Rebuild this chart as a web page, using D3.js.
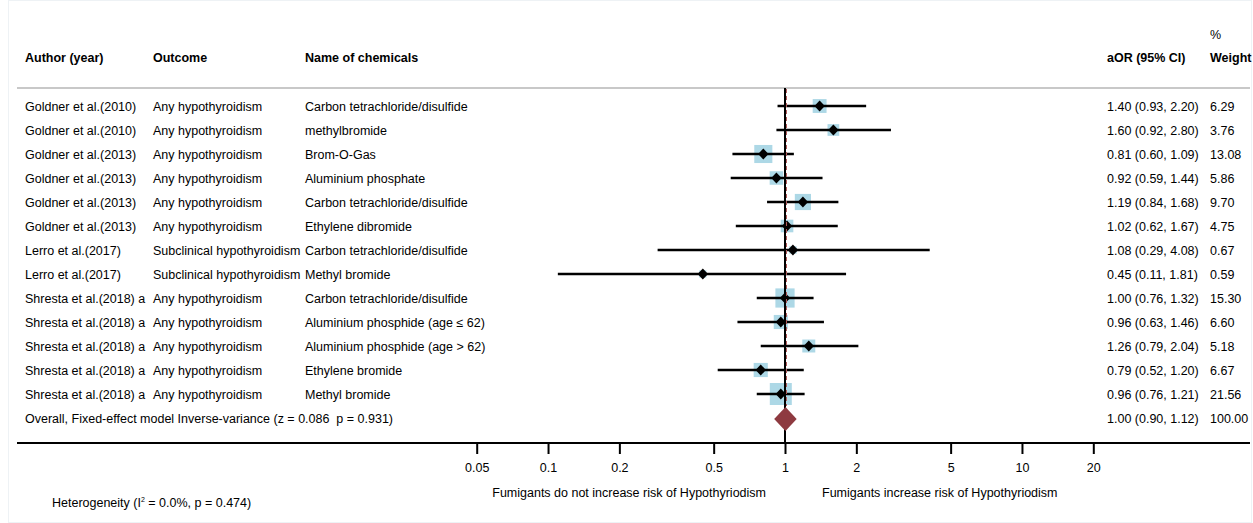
<!DOCTYPE html>
<html>
<head>
<meta charset="utf-8">
<script src="https://cdn.jsdelivr.net/npm/d3@7"></script>
<style>
  html, body { margin: 0; padding: 0; background: #fff; }
  svg { display: block; font-family: "Liberation Sans", Arial, Helvetica, sans-serif; }
  svg text { white-space: pre; }
</style>
</head>
<body>
<svg id="chart" width="1253" height="523"></svg>
<script>
// ---- data ----
const authors = [
  "Goldner et al.(2010)", "Goldner et al.(2010)", "Goldner et al.(2013)", "Goldner et al.(2013)",
  "Goldner et al.(2013)", "Goldner et al.(2013)", "Lerro et al.(2017)", "Lerro et al.(2017)",
  "Shresta et al.(2018) a", "Shresta et al.(2018) a", "Shresta et al.(2018) a", "Shresta et al.(2018) a",
  "Shresta et al.(2018) a"
];
const outcomes = [
  "Any hypothyroidism", "Any hypothyroidism", "Any hypothyroidism", "Any hypothyroidism",
  "Any hypothyroidism", "Any hypothyroidism", "Subclinical hypothyroidism", "Subclinical hypothyroidism",
  "Any hypothyroidism", "Any hypothyroidism", "Any hypothyroidism", "Any hypothyroidism",
  "Any hypothyroidism"
];
const chemicals = [
  "Carbon tetrachloride/disulfide", "methylbromide", "Brom-O-Gas", "Aluminium phosphate",
  "Carbon tetrachloride/disulfide", "Ethylene dibromide", "Carbon tetrachloride/disulfide", "Methyl bromide",
  "Carbon tetrachloride/disulfide", "Aluminium phosphide (age \u2264 62)", "Aluminium phosphide (age > 62)",
  "Ethylene bromide", "Methyl bromide"
];
const estimates = [1.40, 1.60, 0.81, 0.92, 1.19, 1.02, 1.08, 0.45, 1.00, 0.96, 1.26, 0.79, 0.96];
const lower     = [0.93, 0.92, 0.60, 0.59, 0.84, 0.62, 0.29, 0.11, 0.76, 0.63, 0.79, 0.52, 0.76];
const upper     = [2.20, 2.80, 1.09, 1.44, 1.68, 1.67, 4.08, 1.81, 1.32, 1.46, 2.04, 1.20, 1.21];
const weights   = [6.29, 3.76, 13.08, 5.86, 9.70, 4.75, 0.67, 0.59, 15.30, 6.60, 5.18, 6.67, 21.56];

const overallLabel = "Overall, Fixed-effect model Inverse-variance (z = 0.086  p = 0.931)";
const overallEst = 1.0048, overallLow = 0.90, overallHigh = 1.12, overallWeight = 100.00;

const tickValues = [0.05, 0.1, 0.2, 0.5, 1, 2, 5, 10, 20];
const tickLabels = ["0.05", "0.1", "0.2", "0.5", "1", "2", "5", "10", "20"];
const headers = ["Author (year)", "Outcome", "Name of chemicals", "aOR (95% CI)", "Weight"];
const leftAxisLabel = "Fumigants do not increase risk of Hypothyriodism";
const rightAxisLabel = "Fumigants increase risk of Hypothyriodism";

// ---- layout ----
const W = 1253, H = 523;
const svg = d3.select("#chart");
const colX = { author: 25, outcome: 153, chem: 305, aor: 1107, weight: 1210 };
const firstRowY = 106, rowStep = 24;
const headerLineY = 88, axisY = 443;
const fs = 12.5;

const x = d3.scaleLog().domain([0.05, 20]).range([476.7, 1093.3]);
const y = i => firstRowY + i * rowStep;
const boxSize = d3.scaleSqrt().domain([0, d3.max(weights)]).range([4.3, 22]);
const fmt = d3.format(".2f");

// faint frame
svg.append("rect").attr("x", 8.5).attr("y", 0.5).attr("width", W - 10).attr("height", H - 1)
  .attr("fill", "none").attr("stroke", "#eef2f5").attr("stroke-width", 1);

// headers
const hdr = svg.append("g").attr("font-weight", "bold").attr("font-size", fs).attr("fill", "#000");
hdr.append("text").attr("x", colX.author).attr("y", 62).text(headers[0]);
hdr.append("text").attr("x", colX.outcome).attr("y", 62).text(headers[1]);
hdr.append("text").attr("x", colX.chem).attr("y", 62).text(headers[2]);
hdr.append("text").attr("x", colX.aor).attr("y", 62).text(headers[3]);
hdr.append("text").attr("x", colX.weight).attr("y", 62).text(headers[4]);
svg.append("text").attr("x", colX.weight).attr("y", 39).attr("font-size", fs).text("%");

// header line
svg.append("line").attr("x1", 17).attr("x2", 1250).attr("y1", headerLineY).attr("y2", headerLineY)
  .attr("stroke", "#c8c8c8").attr("stroke-width", 2);

// rows text
const rows = svg.append("g").attr("font-size", fs).attr("fill", "#000");
estimates.forEach((e, i) => {
  const ty = y(i) + 4.5;
  rows.append("text").attr("x", colX.author).attr("y", ty).text(authors[i]);
  rows.append("text").attr("x", colX.outcome).attr("y", ty).text(outcomes[i]);
  rows.append("text").attr("x", colX.chem).attr("y", ty).text(chemicals[i]);
  rows.append("text").attr("x", colX.aor).attr("y", ty)
    .text(`${fmt(e)} (${fmt(lower[i])}, ${fmt(upper[i])})`);
  rows.append("text").attr("x", colX.weight).attr("y", ty).text(fmt(weights[i]));
});
const oy = y(estimates.length);
rows.append("text").attr("x", colX.author).attr("y", oy + 4.5).text(overallLabel);
rows.append("text").attr("x", colX.aor).attr("y", oy + 4.5)
  .text(`${fmt(overallEst)} (${fmt(overallLow)}, ${fmt(overallHigh)})`);
rows.append("text").attr("x", colX.weight).attr("y", oy + 4.5).text(fmt(overallWeight));

// boxes
const plot = svg.append("g");
plot.selectAll("rect.box").data(weights).join("rect").attr("class", "box")
  .attr("x", (w, i) => x(estimates[i]) - boxSize(w) / 2)
  .attr("y", (w, i) => y(i) - boxSize(w) / 2)
  .attr("width", w => boxSize(w)).attr("height", w => boxSize(w))
  .attr("fill", "#add8e6");

// no-effect line
svg.append("line").attr("x1", x(1)).attr("x2", x(1)).attr("y1", headerLineY).attr("y2", axisY)
  .attr("stroke", "#000").attr("stroke-width", 2);

// overall dashed line
svg.append("line").attr("x1", x(overallEst) + 1).attr("x2", x(overallEst) + 1)
  .attr("y1", headerLineY + 1).attr("y2", oy - 12)
  .attr("stroke", "#b05a5a").attr("stroke-width", 1).attr("stroke-dasharray", "4,3");

// CI lines
plot.selectAll("line.ci").data(estimates).join("line").attr("class", "ci")
  .attr("x1", (e, i) => x(lower[i])).attr("x2", (e, i) => x(upper[i]))
  .attr("y1", (e, i) => y(i)).attr("y2", (e, i) => y(i))
  .attr("stroke", "#000").attr("stroke-width", 2.6);

// point diamonds
plot.selectAll("path.pt").data(estimates).join("path").attr("class", "pt")
  .attr("d", (e, i) => {
    const cx = x(e), cy = y(i), a = 5.2, b = 5.6;
    return `M${cx - a},${cy}L${cx},${cy - b}L${cx + a},${cy}L${cx},${cy + b}Z`;
  })
  .attr("fill", "#000");

// overall diamond
{
  const l = x(overallLow), r = x(overallHigh), c = x(overallEst), cy = oy + 1, h = 12;
  svg.append("path")
    .attr("d", `M${l},${cy}L${c},${cy - h}L${r},${cy}L${c},${cy + h}Z`)
    .attr("fill", "#8e3a40");
}

// axis
const axis = d3.axisBottom(x).tickValues(tickValues)
  .tickFormat((d, i) => tickLabels[i]).tickSize(11).tickSizeOuter(0);
const ax = svg.append("g").attr("transform", `translate(0,${axisY})`).call(axis);
ax.select(".domain").remove();
ax.selectAll(".tick line").attr("stroke", "#000").attr("stroke-width", 2);
ax.selectAll(".tick text").attr("font-size", fs).attr("font-family", "Liberation Sans, Arial, sans-serif")
  .attr("fill", "#000").attr("dy", 0).attr("y", 28.5);
svg.append("line").attr("x1", 17).attr("x2", 1250).attr("y1", axisY).attr("y2", axisY)
  .attr("stroke", "#000").attr("stroke-width", 2);

// axis side labels
svg.append("text").attr("x", x(1) - 19).attr("y", 496.5).attr("font-size", fs)
  .attr("text-anchor", "end").text(leftAxisLabel);
svg.append("text").attr("x", x(1) + 37).attr("y", 496.5).attr("font-size", fs)
  .attr("text-anchor", "start").text(rightAxisLabel);

// heterogeneity
const het = svg.append("text").attr("x", 52).attr("y", 506.5).attr("font-size", fs);
het.append("tspan").text("Heterogeneity (I");
het.append("tspan").attr("font-size", 7).attr("dy", -5).text("2");
het.append("tspan").attr("dy", 5).text(" = 0.0%, p = 0.474)");
</script>
</body>
</html>
